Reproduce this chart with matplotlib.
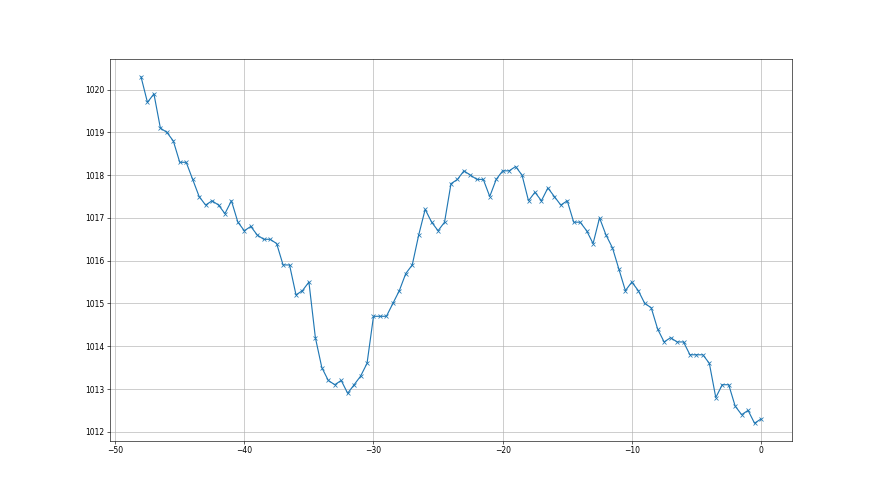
import numpy as np
import matplotlib
matplotlib.use('Agg')
import matplotlib.pyplot as plt

# hours relative to now, 30 minute steps
hours = np.arange(-48, 0.5, 0.5)

# pressure readings (hPa)
pressure = [
    1020.3, 1019.7, 1019.9, 1019.1, 1019.0, 1018.8, 1018.3, 1018.3, 1017.9, 1017.5,
    1017.3, 1017.4, 1017.3, 1017.1, 1017.4, 1016.9, 1016.7, 1016.8, 1016.6, 1016.5,
    1016.5, 1016.4, 1015.9, 1015.9, 1015.2, 1015.3, 1015.5, 1014.2, 1013.5, 1013.2,
    1013.1, 1013.2, 1012.9, 1013.1, 1013.3, 1013.6, 1014.7, 1014.7, 1014.7, 1015.0,
    1015.3, 1015.7, 1015.9, 1016.6, 1017.2, 1016.9, 1016.7, 1016.9, 1017.8, 1017.9,
    1018.1, 1018.0, 1017.9, 1017.9, 1017.5, 1017.9, 1018.1, 1018.1, 1018.2, 1018.0,
    1017.4, 1017.6, 1017.4, 1017.7, 1017.5, 1017.3, 1017.4, 1016.9, 1016.9, 1016.7,
    1016.4, 1017.0, 1016.6, 1016.3, 1015.8, 1015.3, 1015.5, 1015.3, 1015.0, 1014.9,
    1014.4, 1014.1, 1014.2, 1014.1, 1014.1, 1013.8, 1013.8, 1013.8, 1013.6, 1012.8,
    1013.1, 1013.1, 1012.6, 1012.4, 1012.5, 1012.2, 1012.3,
]

fig, ax = plt.subplots(figsize=(16, 9), dpi=55)
ax.plot(hours, pressure, 'x-', color='#1f77b4')
ax.grid(True)

fig.savefig('out.png', dpi=55)
